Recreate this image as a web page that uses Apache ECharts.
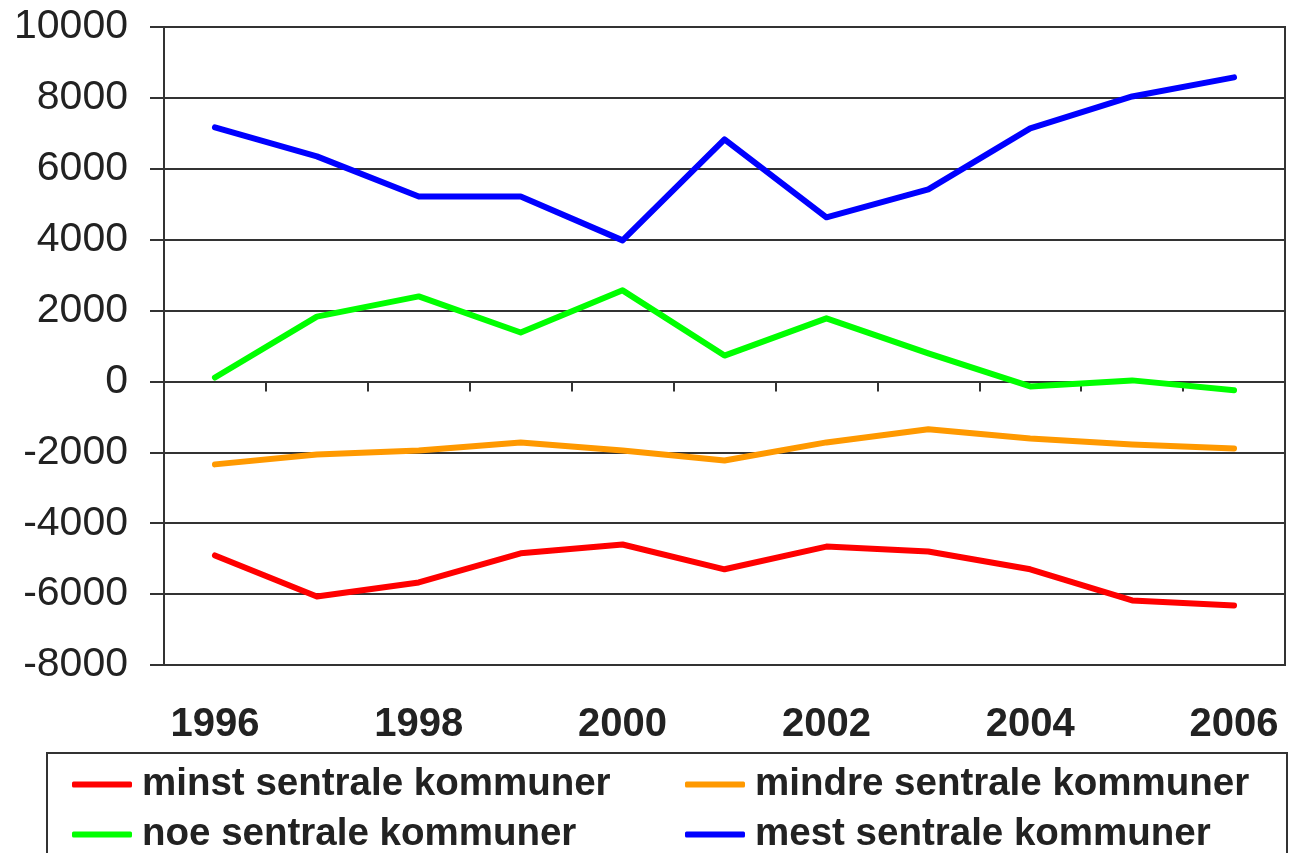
<!DOCTYPE html>
<html>
<head>
<meta charset="utf-8">
<script src="https://cdn.jsdelivr.net/npm/echarts@6/dist/echarts.min.js"></script>
<style>
html,body{margin:0;padding:0;background:#fff;}
#chart{width:1290px;height:853px;}
</style>
</head>
<body>
<div id="chart"></div>
<script>
const years = ['1996','1997','1998','1999','2000','2001','2002','2003','2004','2005','2006'];
const minst = [-4910, -6070, -5670, -4850, -4600, -5300, -4660, -4800, -5300, -6180, -6320];
const mindre = [-2340, -2060, -1950, -1720, -1950, -2230, -1720, -1350, -1610, -1780, -1890];
const noe = [110, 1830, 2400, 1380, 2570, 730, 1780, 790, -140, 30, -250];
const mest = [7170, 6350, 5220, 5220, 3980, 6830, 4630, 5420, 7140, 8040, 8580];
const yTicks = {min: -8000, max: 10000, interval: 2000};

const names = ['minst sentrale kommuner','mindre sentrale kommuner','noe sentrale kommuner','mest sentrale kommuner'];
const colors = ['#ff0000','#ff9900','#00ff00','#0000ff'];
const data = [minst, mindre, noe, mest];

const chart = echarts.init(document.getElementById('chart'));
const axisColor = '#333333';
const font = 'Liberation Sans, Arial, sans-serif';
chart.setOption({
  animation: false,
  backgroundColor: '#ffffff',
  grid: {left: 164, right: 5, top: 27, bottom: 188, show: true, borderColor: axisColor, borderWidth: 2},
  xAxis: [
    {
      type: 'category', data: years, boundaryGap: true, position: 'bottom',
      axisLine: {onZero: true, lineStyle: {color: axisColor, width: 2}},
      axisTick: {show: true, inside: false, length: 10, interval: 0, lineStyle: {color: axisColor, width: 2}},
      axisLabel: {show: false}
    },
    {
      type: 'category', data: years, boundaryGap: true, position: 'bottom',
      axisLine: {show: false, onZero: false},
      axisTick: {show: false},
      axisLabel: {show: true, interval: 1, margin: 40, fontFamily: font, fontWeight: 'bold', fontSize: 40, color: '#222222'}
    }
  ],
  yAxis: {
    type: 'value', min: yTicks.min, max: yTicks.max, interval: yTicks.interval,
    axisLine: {show: true, lineStyle: {color: axisColor, width: 2}},
    axisTick: {show: true, length: 14, lineStyle: {color: axisColor, width: 2}},
    axisLabel: {margin: 36, fontFamily: font, fontSize: 41, color: '#222222', formatter: (v) => String(v)},
    splitLine: {show: true, lineStyle: {color: axisColor, width: 2}}
  },
  legend: {
    data: names,
    left: 47, top: 753, width: 1250,
    orient: 'horizontal',
    icon: 'roundRect', itemWidth: 60, itemHeight: 6, itemGap: 11,
    padding: [12, 0, 30, 25],
    borderColor: axisColor, borderWidth: 2,
    textStyle: {fontFamily: font, fontWeight: 'bold', fontSize: 38.5, color: '#222222', width: 532, height: 30, lineHeight: 30, padding: [0,0,0,5]}
  },
  series: names.map((n, i) => ({
    name: n, type: 'line', data: data[i], xAxisIndex: 0,
    showSymbol: false, symbol: 'none',
    lineStyle: {color: colors[i], width: 6, cap: 'round', join: 'round'},
    itemStyle: {color: colors[i]}
  }))
});
</script>
</body>
</html>
